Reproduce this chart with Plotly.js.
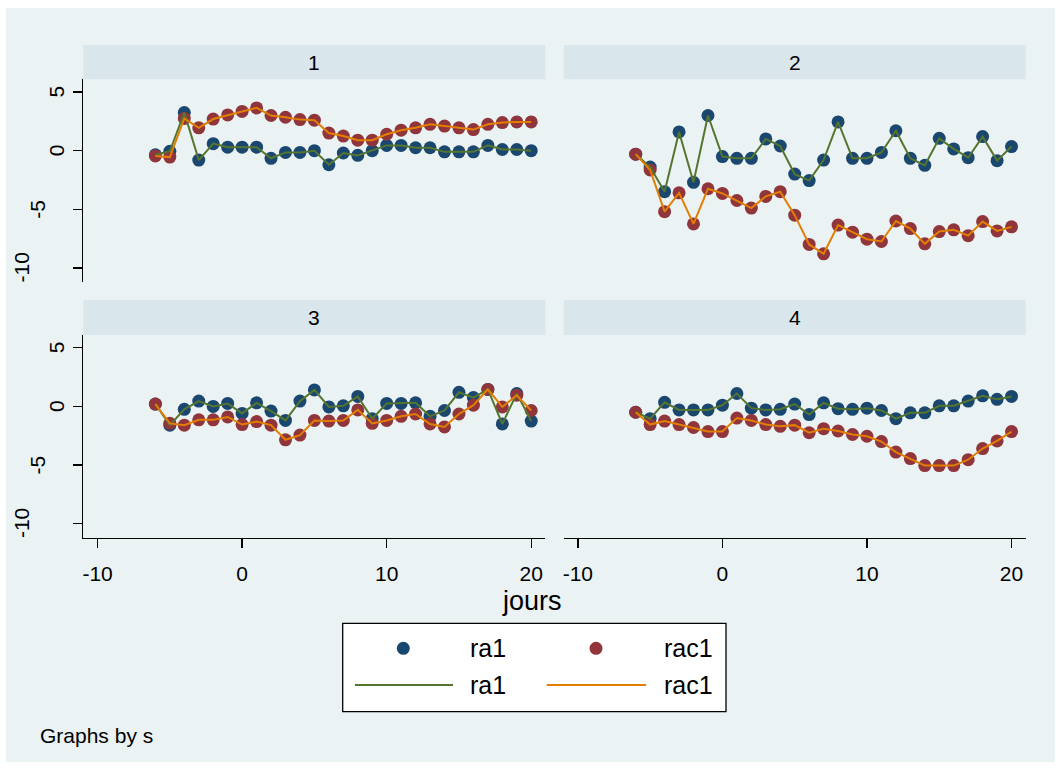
<!DOCTYPE html>
<html><head><meta charset="utf-8">
<script src="https://cdn.plot.ly/plotly-3.0.1.min.js"></script>
<style>html,body{margin:0;padding:0;background:#fff;}#chart{width:1061px;height:769px;}</style>
</head><body><div id="chart"></div>
<script>
// ---- data ----
const jours = [-6,-5,-4,-3,-2,-1,0,1,2,3,4,5,6,7,8,9,10,11,12,13,14,15,16,17,18,19,20];
const panelLabels = ["1","2","3","4"];
const seriesNames = ["ra1","rac1"];
const xTickVals = [-10,0,10,20];
const xTickText = ["-10","0","10","20"];
const yTickVals = [5,0,-5,-10];
const yTickText = ["5","0","-5","-10"];

const ra1_s1  = [-0.35,-0.05,3.25,-0.8,0.6,0.3,0.3,0.3,-0.65,-0.15,-0.15,0.0,-1.2,-0.2,-0.4,0.0,0.45,0.45,0.25,0.25,-0.1,-0.1,-0.1,0.45,0.1,0.1,0.0];
const rac1_s1 = [-0.45,-0.55,2.75,1.95,2.7,3.05,3.35,3.65,3.0,2.85,2.65,2.6,1.5,1.25,0.9,0.9,1.4,1.75,1.95,2.25,2.1,1.95,1.8,2.25,2.4,2.45,2.45];
const ra1_s2  = [-0.3,-1.4,-3.5,1.6,-2.7,3.0,-0.5,-0.65,-0.65,1.0,0.4,-2.0,-2.55,-0.8,2.45,-0.65,-0.65,-0.15,1.7,-0.65,-1.25,1.05,0.15,-0.6,1.2,-0.85,0.35];
const rac1_s2 = [-0.3,-1.65,-5.2,-3.6,-6.25,-3.25,-3.65,-4.25,-4.9,-3.9,-3.5,-5.5,-8.0,-8.8,-6.35,-6.95,-7.55,-7.75,-6.0,-6.65,-7.95,-6.9,-6.75,-7.25,-6.05,-6.85,-6.5];
const ra1_s3  = [0.2,-1.6,-0.25,0.45,0.0,0.25,-0.6,0.3,-0.4,-1.2,0.45,1.4,-0.05,0.05,0.85,-1.05,0.25,0.25,0.3,-0.85,-0.35,1.2,0.75,1.45,-1.5,1.1,-1.25];
const rac1_s3 = [0.2,-1.45,-1.6,-1.15,-1.15,-0.9,-1.55,-1.3,-1.6,-2.85,-2.45,-1.2,-1.25,-1.2,-0.3,-1.45,-1.2,-0.85,-0.65,-1.5,-1.75,-0.65,0.1,1.45,-0.05,0.95,-0.35];
const ra1_s4  = [-0.5,-1.05,0.35,-0.3,-0.3,-0.3,0.1,1.1,-0.15,-0.3,-0.25,0.2,-0.7,0.3,-0.2,-0.25,-0.15,-0.35,-1.05,-0.55,-0.55,0.05,0.05,0.45,0.9,0.6,0.85];
const rac1_s4 = [-0.5,-1.55,-1.25,-1.55,-1.8,-2.15,-2.15,-1.0,-1.2,-1.55,-1.7,-1.6,-2.25,-1.9,-2.1,-2.4,-2.55,-3.0,-3.9,-4.45,-5.05,-5.05,-5.05,-4.55,-3.6,-2.95,-2.15];

const ra1All = [ra1_s1, ra1_s2, ra1_s3, ra1_s4];
const rac1All = [rac1_s1, rac1_s2, rac1_s3, rac1_s4];

// ---- style ----
const W = 1061, H = 769;
const FONT = "Liberation Sans, Arial, Helvetica, sans-serif";
const cBlue = "#1a476f", cRed = "#90353b", cGreen = "#55752f", cOrange = "#e37e00";
const bgOuter = "#eaf2f3", bgStrip = "#d9e6eb", gridC = "#eaf2f3";
const px = v => v / W;
const py = v => 1 - v / H;

// panel geometry (pixels)
const colX = [[83.4, 545.4], [563.7, 1025.7]];
const rowY = [[79.3, 282.3], [335, 538]];
const stripY = [[45, 79.3], [300, 335]];
const xRange = [-10.98, 20.98];
const yRange = [-11.23, 6.09];

const traces = [];
const layout = {
  width: W, height: H, autosize: false,
  margin: {l: 0, r: 0, t: 0, b: 0, pad: 0},
  paper_bgcolor: "#ffffff", plot_bgcolor: "#ffffff",
  showlegend: false,
  font: {family: FONT, color: "#000"},
  shapes: [], annotations: []
};

// outer graph region
layout.shapes.push({type: "rect", xref: "paper", yref: "paper", layer: "below",
  x0: px(6), x1: px(1055), y0: py(762), y1: py(8), fillcolor: bgOuter, line: {width: 0}});

for (let p = 0; p < 4; p++) {
  const col = p % 2, row = Math.floor(p / 2);
  const s = p === 0 ? "" : String(p + 1);
  const xa = "x" + s, ya = "y" + s;
  const common = {x: jours, xaxis: xa, yaxis: ya, hoverinfo: "skip"};
  traces.push(Object.assign({}, common, {y: ra1All[p], name: seriesNames[0], type: "scatter", mode: "markers",
    marker: {color: cBlue, size: 13, line: {width: 0}}}));
  traces.push(Object.assign({}, common, {y: rac1All[p], name: seriesNames[1], type: "scatter", mode: "markers",
    marker: {color: cRed, size: 13, line: {width: 0}}}));
  traces.push(Object.assign({}, common, {y: ra1All[p], name: seriesNames[0], type: "scatter", mode: "lines",
    line: {color: cGreen, width: 2}}));
  traces.push(Object.assign({}, common, {y: rac1All[p], name: seriesNames[1], type: "scatter", mode: "lines",
    line: {color: cOrange, width: 2}}));

  const isBottom = row === 1, isLeft = col === 0;
  layout["xaxis" + s] = {
    domain: [px(colX[col][0]), px(colX[col][1])], anchor: ya, range: xRange,
    showgrid: false, zeroline: false,
    tickvals: xTickVals, ticktext: xTickText,
    showticklabels: isBottom, ticks: isBottom ? "outside" : "",
    ticklen: 9, tickwidth: 1.3, tickcolor: "#000",
    showline: isBottom, linecolor: "#000", linewidth: 1.3,
    tickfont: {family: FONT, size: 21, color: "#000"}, ticklabelstandoff: 7
  };
  layout["yaxis" + s] = {
    domain: [py(rowY[row][1]), py(rowY[row][0])], anchor: xa, range: yRange,
    tickvals: yTickVals, showticklabels: false,
    showgrid: true, gridcolor: gridC, gridwidth: 1.7, zeroline: false,
    ticks: isLeft ? "outside" : "", ticklen: 9, tickwidth: 1.3, tickcolor: "#000",
    showline: isLeft, linecolor: "#000", linewidth: 1.3
  };
  // strip
  layout.shapes.push({type: "rect", xref: "paper", yref: "paper", layer: "below",
    x0: px(colX[col][0]), x1: px(colX[col][1]), y0: py(stripY[row][1]), y1: py(stripY[row][0]),
    fillcolor: bgStrip, line: {width: 0}});
  layout.annotations.push({xref: "paper", yref: "paper", showarrow: false,
    x: px((colX[col][0] + colX[col][1]) / 2), y: py((stripY[row][0] + stripY[row][1]) / 2),
    xanchor: "center", yanchor: "middle", text: panelLabels[p],
    font: {family: FONT, size: 21, color: "#000"}});
  // y tick labels (rotated, Stata style)
  if (isLeft) {
    const cx = [56.5, 37.5, 21.5];
    yTickVals.forEach((v, i) => {
      layout.annotations.push({xref: "paper", yref: ya, showarrow: false,
        x: px(cx[yTickText[i].length - 1]), y: v, xanchor: "center", yanchor: "middle",
        textangle: -90, text: yTickText[i], font: {family: FONT, size: 21, color: "#000"}});
    });
  }
}

// x title
layout.annotations.push({xref: "paper", yref: "paper", showarrow: false, x: px(532), y: py(601),
  xanchor: "center", yanchor: "middle", text: "jours", font: {family: FONT, size: 27, color: "#000"}});
// note
layout.annotations.push({xref: "paper", yref: "paper", showarrow: false, x: px(38), y: py(735),
  xanchor: "left", yanchor: "middle", text: "Graphs by s", font: {family: FONT, size: 21, color: "#000"}});

// legend box
layout.shapes.push({type: "rect", xref: "paper", yref: "paper", x0: px(342.7), x1: px(726), y0: py(711.7), y1: py(623.3),
  fillcolor: "#ffffff", line: {color: "#000", width: 1.3}, layer: "above"});
const legR = 6.5;
const legItems = [
  {kind: "marker", color: cBlue, cx: 403.3, cy: 648.3, tx: 468, label: seriesNames[0]},
  {kind: "marker", color: cRed, cx: 596, cy: 648.3, tx: 661.7, label: seriesNames[1]},
  {kind: "line", color: cGreen, x0: 355, x1: 453, cy: 685, tx: 468, label: seriesNames[0]},
  {kind: "line", color: cOrange, x0: 546.7, x1: 646, cy: 685, tx: 661.7, label: seriesNames[1]}
];
legItems.forEach(it => {
  if (it.kind === "marker") {
    layout.shapes.push({type: "circle", xref: "paper", yref: "paper", x0: px(it.cx - legR), x1: px(it.cx + legR),
      y0: py(it.cy + legR), y1: py(it.cy - legR), fillcolor: it.color, line: {width: 0}, layer: "above"});
  } else {
    layout.shapes.push({type: "line", xref: "paper", yref: "paper", x0: px(it.x0), x1: px(it.x1),
      y0: py(it.cy), y1: py(it.cy), line: {color: it.color, width: 2.2}, layer: "above"});
  }
  layout.annotations.push({xref: "paper", yref: "paper", showarrow: false, x: px(it.tx), y: py(it.cy),
    xanchor: "left", yanchor: "middle", text: it.label, font: {family: FONT, size: 25, color: "#000"}});
});

Plotly.newPlot("chart", traces, layout, {staticPlot: true, displayModeBar: false});
</script></body></html>
